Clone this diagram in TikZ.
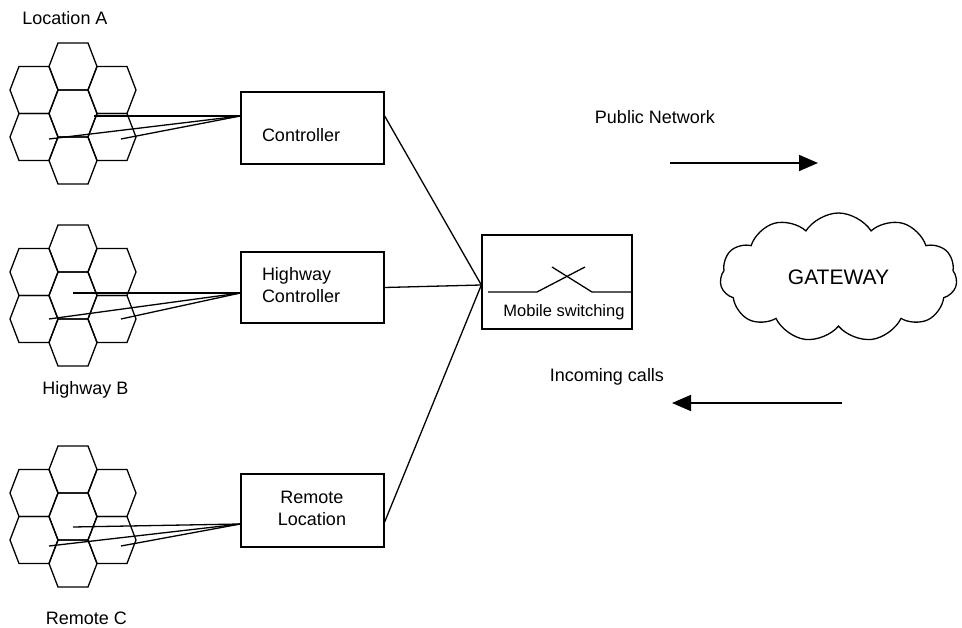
\documentclass[tikz,border=0pt]{standalone}
\usepackage{fontspec}
\setmainfont{Liberation Sans}
\usetikzlibrary{shapes.symbols,arrows.meta,calc}
\begin{document}
\begin{tikzpicture}[x=1pt,y=-1pt,
  line width=1.3pt,
  box/.style={draw,rectangle,minimum width=143pt,minimum height=72pt,inner sep=0pt},
  lbl/.style={font=\fontsize{18}{22}\selectfont,inner sep=0pt},
  flow/.style={-{Triangle[length=19pt,width=16pt]},line width=1.7pt},
  hexcell/.pic={\draw (-15,-23.5) -- (15,-23.5) -- (24,0) -- (15,23.5) -- (-15,23.5) -- (-24,0) -- cycle;}]
\useasboundingbox (0,0) rectangle (962,628);

% hexagon clusters
\foreach \cy in {113.5,295.5,516.5}{
  \foreach \dx/\dy in {0/0,0/-47,0/47,-39/-23.5,39/-23.5,-39/23.5,39/23.5}{
    \pic at (73+\dx,\cy+\dy) {hexcell};
  }
}

% boxes
\node[box] (ctrl) at (312.5,128) {};
\node[box,minimum height=71pt] (hw) at (312.5,287.5) {};
\node[box,minimum height=73pt] (rem) at (312.5,510.5) {};
\node[box,minimum width=150pt,minimum height=94pt] (sw) at (557,282) {};
\node[draw,cloud,cloud puffs=11,cloud puff arc=115,cloud ignores aspect,
      minimum width=237pt,minimum height=129pt,inner sep=0pt,
      font=\fontsize{21}{24}\selectfont] (gw) at (838.5,277.5) {GATEWAY};

% box texts
\node[lbl,anchor=west] (ctrlt) at ($(ctrl.west)+(21,7)$) {Controller};
\node[lbl,anchor=west,align=left] (hwt) at ($(hw.west)+(21,-2.5)$) {Highway\\Controller};
\node[lbl,align=center] (remt) at (312,508) {Remote\\Location};
\node[inner sep=0pt,font=\fontsize{16.5}{20}\selectfont] (swt) at (564,312) {Mobile switching};

% labels
\node[lbl] (la) at (65,18) {Location A};
\node[lbl] (lb) at (85.5,390) {Highway B};
\node[lbl] (lc) at (86.5,618) {Remote C};
\node[lbl] (lp) at (655,117) {Public Network};
\node[lbl] (li) at (607,377) {Incoming calls};

% cell links
\coordinate (c1) at ($(ctrl.west)+(0,-12)$);
\coordinate (c2) at ($(hw.west)+(0,5.5)$);
\coordinate (c3) at ($(rem.west)+(0,13.5)$);
\coordinate (a1) at (94,116);  \coordinate (b1) at (49,139);  \coordinate (d1) at (121,139);
\coordinate (a2) at (73,293);  \coordinate (b2) at (49,319);  \coordinate (d2) at (121,319);
\coordinate (a3) at (73,527);  \coordinate (b3) at (49,546);  \coordinate (d3) at (121,546);
\foreach \i in {1,2,3}{
  \draw (a\i) -- (c\i);
  \draw (b\i) -- (c\i);
  \draw (d\i) -- (c\i);
}

% controllers to switch
\coordinate (swin) at ($(sw.west)+(0,3)$);
\draw ($(ctrl.east)+(0,-12)$) -- (swin);
\draw (hw.east) -- (swin);
\draw ($(rem.east)+(0,11.5)$) -- (swin);

% switch symbol
\draw (488,292) -- (537,292) -- (585,267);
\draw (552,267) -- (592,292) -- (sw.east |- 0,292);

% switch to gateway
\draw ($(sw.east)+(0,-1)$) -- ($(sw.east)+(0,-1)$ -| gw.west);

% flow arrows
\coordinate (p0) at (670,163); \coordinate (p1) at (818,163);
\coordinate (i0) at (842,403); \coordinate (i1) at (672,403);
\draw[flow] (p0) -- (p1);
\draw[flow] (i0) -- (i1);
\end{tikzpicture}
\end{document}
